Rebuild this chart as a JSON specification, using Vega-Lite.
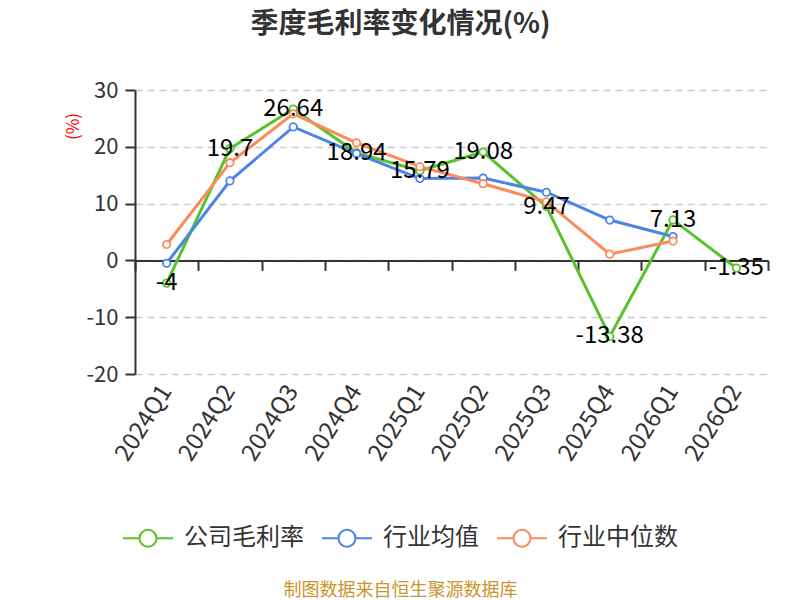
{
  "$schema": "https://vega.github.io/schema/vega-lite/v6.json",
  "description": "Quarterly gross margin vs industry mean and median.",
  "width": 633,
  "height": 284,
  "autosize": {"type": "none"},
  "padding": {"left": 135, "top": 90, "right": 32, "bottom": 226},
  "background": "white",
  "config": {"font": "Noto Sans CJK SC", "view": {"stroke": null}},
  "title": {
    "text": "季度毛利率变化情况(%)",
    "fontSize": 28,
    "fontWeight": "bold",
    "color": "#333333",
    "anchor": "middle",
    "frame": "group",
    "dx": -51,
    "offset": 40
  },
  "data": {
    "values": [
      {"q": "2024Q1", "s": "公司毛利率", "v": -4},
      {"q": "2024Q2", "s": "公司毛利率", "v": 19.7},
      {"q": "2024Q3", "s": "公司毛利率", "v": 26.64},
      {"q": "2024Q4", "s": "公司毛利率", "v": 18.94},
      {"q": "2025Q1", "s": "公司毛利率", "v": 15.79},
      {"q": "2025Q2", "s": "公司毛利率", "v": 19.08},
      {"q": "2025Q3", "s": "公司毛利率", "v": 9.47},
      {"q": "2025Q4", "s": "公司毛利率", "v": -13.38},
      {"q": "2026Q1", "s": "公司毛利率", "v": 7.13},
      {"q": "2026Q2", "s": "公司毛利率", "v": -1.35},
      {"q": "2024Q1", "s": "行业均值", "v": -0.5},
      {"q": "2024Q2", "s": "行业均值", "v": 14.0},
      {"q": "2024Q3", "s": "行业均值", "v": 23.5},
      {"q": "2024Q4", "s": "行业均值", "v": 18.8},
      {"q": "2025Q1", "s": "行业均值", "v": 14.4},
      {"q": "2025Q2", "s": "行业均值", "v": 14.5},
      {"q": "2025Q3", "s": "行业均值", "v": 12.0},
      {"q": "2025Q4", "s": "行业均值", "v": 7.1},
      {"q": "2026Q1", "s": "行业均值", "v": 4.2},
      {"q": "2024Q1", "s": "行业中位数", "v": 2.8},
      {"q": "2024Q2", "s": "行业中位数", "v": 17.2},
      {"q": "2024Q3", "s": "行业中位数", "v": 25.8},
      {"q": "2024Q4", "s": "行业中位数", "v": 20.7},
      {"q": "2025Q1", "s": "行业中位数", "v": 16.5},
      {"q": "2025Q2", "s": "行业中位数", "v": 13.5},
      {"q": "2025Q3", "s": "行业中位数", "v": 10.3},
      {"q": "2025Q4", "s": "行业中位数", "v": 1.1},
      {"q": "2026Q1", "s": "行业中位数", "v": 3.4}
    ]
  },
  "encoding": {
    "y": {
      "field": "v",
      "type": "quantitative",
      "scale": {"domain": [-20, 30], "nice": false, "zero": false},
      "axis": {
        "values": [-20, -10, 0, 10, 20, 30],
        "labelExpr": "replace(datum.label, '−', '-')",
        "title": "(%)",
        "titleColor": "red",
        "titleFontSize": 17,
        "titleFontWeight": "normal",
        "titleX": -62,
        "titleY": 36,
        "titleAlign": "center",
        "titleBaseline": "middle",
        "labelFontSize": 22,
        "labelColor": "#333333",
        "labelPadding": 7,
        "tickSize": 10,
        "tickWidth": 2,
        "tickColor": "#333333",
        "domainColor": "#333333",
        "domainWidth": 2,
        "gridColor": "#cccccc",
        "gridDash": [7, 5],
        "gridWidth": 1.5
      }
    },
    "color": {
      "field": "s",
      "type": "nominal",
      "scale": {
        "domain": ["公司毛利率", "行业均值", "行业中位数"],
        "range": ["#58c22a", "#4d84e6", "#fd8a5c"]
      },
      "legend": {
        "title": null,
        "orient": "none",
        "direction": "horizontal",
        "legendX": -13,
        "legendY": 422,
        "symbolType": "M-1,0L-0.34,0M0.34,0L1,0M0.34,0A0.34,0.34,0,1,1,-0.34,0A0.34,0.34,0,1,1,0.34,0",
        "symbolSize": 2500,
        "symbolStrokeWidth": 2,
        "symbolFillColor": "white",
        "labelFontSize": 24,
        "labelColor": "#333333",
        "labelOffset": 10,
        "columnPadding": 14
      }
    }
  },
  "resolve": {"axis": {"x": "independent"}},
  "layer": [
    {
      "mark": {"type": "line", "strokeWidth": 3},
      "encoding": {
        "x": {
          "field": "q",
          "type": "ordinal",
          "sort": null,
          "scale": {"type": "band", "paddingInner": 0, "paddingOuter": 0},
          "axis": {
            "orient": "bottom",
            "offset": -113.6,
            "labels": false,
            "title": null,
            "grid": false,
            "domainColor": "#333333",
            "domainWidth": 2,
            "tickColor": "#333333",
            "tickWidth": 2,
            "tickSize": 10,
            "tickBand": "extent"
          }
        }
      }
    },
    {
      "mark": {"type": "point", "filled": false, "fill": "white", "size": 55, "strokeWidth": 1.8, "opacity": 1},
      "encoding": {
        "x": {
          "field": "q",
          "type": "ordinal",
          "sort": null,
          "axis": {
            "orient": "bottom",
            "domain": false,
            "ticks": false,
            "grid": false,
            "labelAngle": -58,
            "labelAlign": "right",
            "labelBaseline": "middle",
            "labelFontSize": 24,
            "labelColor": "#333333",
            "labelPadding": 13,
            "title": "制图数据来自恒生聚源数据库",
            "titleColor": "#c9962b",
            "titleFontSize": 18,
            "titleFontWeight": "normal",
            "titleX": 265,
            "titleY": 216,
            "titleAlign": "center",
            "titleBaseline": "middle"
          }
        }
      }
    },
    {
      "transform": [{"filter": "datum.s === '公司毛利率'"}],
      "mark": {"type": "text", "fontSize": 24, "color": "black", "align": "center", "baseline": "middle"},
      "encoding": {
        "x": {"field": "q", "type": "ordinal", "sort": null, "axis": null},
        "text": {"field": "v", "type": "nominal"},
        "color": {"value": "black"}
      }
    }
  ]
}
